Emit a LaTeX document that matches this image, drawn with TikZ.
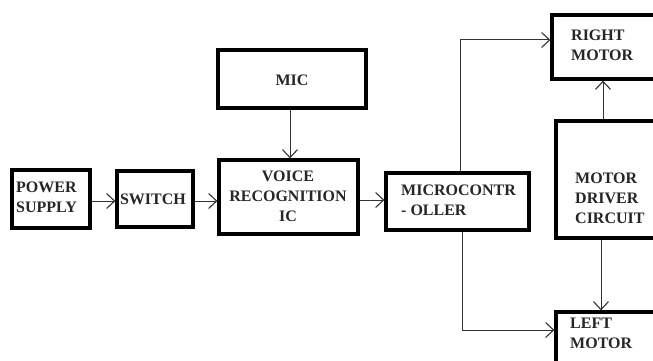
\documentclass[tikz,border=0pt]{standalone}
\usepackage{fontspec}
\setmainfont{Liberation Serif}
\usetikzlibrary{arrows.meta}
\tikzset{
  blk/.style={draw=black, line width=3.2pt, rectangle, inner sep=0pt, fill=white},
  lbl/.style={font=\fontsize{16}{20}\selectfont\bfseries, inner sep=0pt, text=black!85},
  arr/.style={line width=1pt, draw=black!80, -{Straight Barb[length=8pt,width=15pt,line width=1.1pt]}},
}
\begin{document}
\begin{tikzpicture}[x=1pt,y=-1pt]
\useasboundingbox (0,0) rectangle (653,361);
\fill[white] (0,0) rectangle (653,361);
\clip (0,0) rectangle (653,361);
% boxes
\node[blk, minimum width=78pt, minimum height=58pt] (ps) at (51,199) {};
\node[blk, minimum width=76pt, minimum height=56pt] (sw) at (155,199) {};
\node[blk, minimum width=139pt, minimum height=74pt] (vr) at (288.5,197) {};
\node[blk, minimum width=148pt, minimum height=58pt] (mic) at (292,79) {};
\node[blk, minimum width=143pt, minimum height=57pt] (mc) at (457.5,201.5) {};
\node[blk, minimum width=114pt, minimum height=117pt] (md) at (613,179.5) {};
\node[blk, minimum width=118pt, minimum height=64pt] (rm) at (611,47) {};
\node[blk, minimum width=114pt, minimum height=63pt] (lm) at (613,343.5) {};
% labels
\node[lbl, anchor=west, align=left] (pst) at (16,197) {POWER\\SUPPLY};
\node[lbl] (swt) at (153,199) {SWITCH};
\node[lbl, align=center] (vrt) at (288,196) {VOICE\\RECOGNITION\\IC};
\node[lbl] (mict) at (292,80) {MIC};
\node[lbl, anchor=west, align=left] (mct) at (401,200) {MICROCONTR\\- OLLER};
\node[lbl, anchor=west, align=left] (mdt) at (575,198) {MOTOR\\DRIVER\\CIRCUIT};
\node[lbl, anchor=west, align=left] (rmt) at (571,45) {RIGHT\\MOTOR};
\node[lbl, anchor=west, align=left] (lmt) at (570,333) {LEFT\\MOTOR};
% connectors
\draw[arr] ([yshift=-2pt]ps.east) -- ([yshift=-2pt]sw.west);
\draw[arr] ([yshift=-2pt]sw.east) -- ([yshift=-2pt]sw.east -| vr.west);
\draw[arr] ([xshift=-2pt]mic.south) -- ([xshift=-2pt]mic.south |- vr.north);
\draw[arr] ([yshift=-3pt]vr.east -| vr.east) -- ([yshift=1.5pt]mc.west);
\draw[arr] ([xshift=3pt]mc.north) |- ([yshift=7pt]rm.west);
\draw[arr] ([xshift=5pt]mc.south) |- ([yshift=13.5pt]lm.west);
\draw[arr] ([xshift=-10pt]md.north) -- ([xshift=-10pt]md.north |- rm.south);
\draw[arr] ([xshift=-12pt]md.south) -- ([xshift=-12pt]md.south |- lm.north);
\end{tikzpicture}
\end{document}
